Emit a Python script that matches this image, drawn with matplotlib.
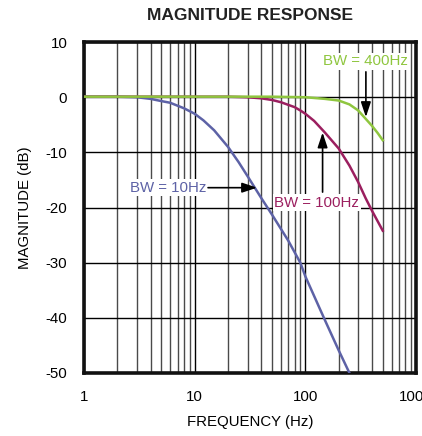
import matplotlib
matplotlib.use("Agg")
import matplotlib.pyplot as plt
from matplotlib.ticker import FixedLocator, NullFormatter

plt.rcParams['font.family'] = ['Liberation Sans', 'DejaVu Sans']
plt.rcParams['axes.unicode_minus'] = False

# Data
f_10 = [1, 2, 3, 4, 5, 6, 8, 10, 12, 15, 20, 25, 30, 40, 50, 70, 90, 100, 150, 200, 250]
db_10 = [0.1, 0.1, 0.0, -0.3, -0.7, -1.0, -2.0, -3.0, -4.2, -6.0, -9.0, -11.8, -14.3, -18.3, -21.3,
         -26.0, -30.0, -32.5, -40.4, -45.9, -50.0]

f_100 = [1, 10, 20, 30, 40, 50, 60, 80, 90, 100, 120, 150, 200, 250, 300, 350, 400, 500]
db_100 = [0.1, 0.1, 0.1, 0.0, -0.2, -0.5, -0.9, -1.8, -2.4, -3.0, -4.3, -6.4, -9.3, -12.4, -15.4,
          -18.3, -20.6, -24.2]

f_400 = [1, 10, 50, 100, 150, 200, 250, 300, 350, 400, 450, 500]
db_400 = [0.1, 0.1, 0.1, 0.0, -0.3, -0.6, -1.3, -2.4, -3.9, -5.2, -6.5, -7.8]

x_ticks = [1, 10, 100, 1000]
x_tick_labels = ["1", "10", "100", "1000"]
y_ticks = [10, 0, -10, -20, -30, -40, -50]

c_blue = '#5d62a6'
c_red = '#9b1f5f'
c_green = '#8fc63f'

fig = plt.figure(figsize=(4.22, 4.36), dpi=100)
ax = fig.add_axes([0.199, 0.1445, 0.787, 0.759])

ax.set_xscale('log')
ax.set_xlim(1, 1000)
ax.set_ylim(-50, 10)

ax.xaxis.set_major_locator(FixedLocator(x_ticks))
ax.set_xticklabels(x_tick_labels)
minors = [m * d for d in (1, 10, 100) for m in range(2, 10)]
ax.xaxis.set_minor_locator(FixedLocator(minors))
ax.xaxis.set_minor_formatter(NullFormatter())
ax.set_yticks(y_ticks)

ax.grid(True, which='major', color='black', lw=1.0, zorder=1)
ax.grid(True, which='minor', axis='x', color='#4a4a4a', lw=1.0, zorder=1)
ax.tick_params(which='both', length=0, labelsize=10.8, pad=12)

for s in ax.spines.values():
    s.set_linewidth(2.6)
    s.set_color('#111111')

ax.plot(f_10, db_10, color=c_blue, lw=1.8, zorder=4)
ax.plot(f_100, db_100, color=c_red, lw=1.8, zorder=4)
ax.plot(f_400, db_400, color=c_green, lw=1.8, zorder=4)

bbox = dict(facecolor='white', edgecolor='none', pad=1.0)
ax.text(347, 6.5, "BW = 400Hz", color=c_green, fontsize=10.8, ha='center', va='center',
        bbox=bbox, zorder=3)
ax.text(127, -19.1, "BW = 100Hz", color=c_red, fontsize=10.8, ha='center', va='center',
        bbox=bbox, zorder=3)
ax.text(5.74, -16.4, "BW = 10Hz", color=c_blue, fontsize=10.8, ha='center', va='center',
        bbox=bbox, zorder=3)

ap = dict(arrowstyle='-|>,head_length=0.9,head_width=0.3', color='black', lw=1.2,
          shrinkA=0, shrinkB=0)
ax.annotate('', xy=(352, -3.6), xytext=(352, 4.6), arrowprops=ap, zorder=5)
ax.annotate('', xy=(143, -6.4), xytext=(143, -17.2), arrowprops=ap, zorder=5)
ax.annotate('', xy=(36.6, -16.4), xytext=(13.2, -16.4), arrowprops=ap, zorder=5)

ax.set_xlabel("FREQUENCY (Hz)", fontsize=10.8, labelpad=8)
ax.set_ylabel("MAGNITUDE (dB)", fontsize=10.8, labelpad=10)
fig.text(0.593, 0.965, "MAGNITUDE RESPONSE", fontsize=12.5, fontweight='bold',
         ha='center', va='center', color='#222222')

fig.savefig("out.png", dpi=100)
